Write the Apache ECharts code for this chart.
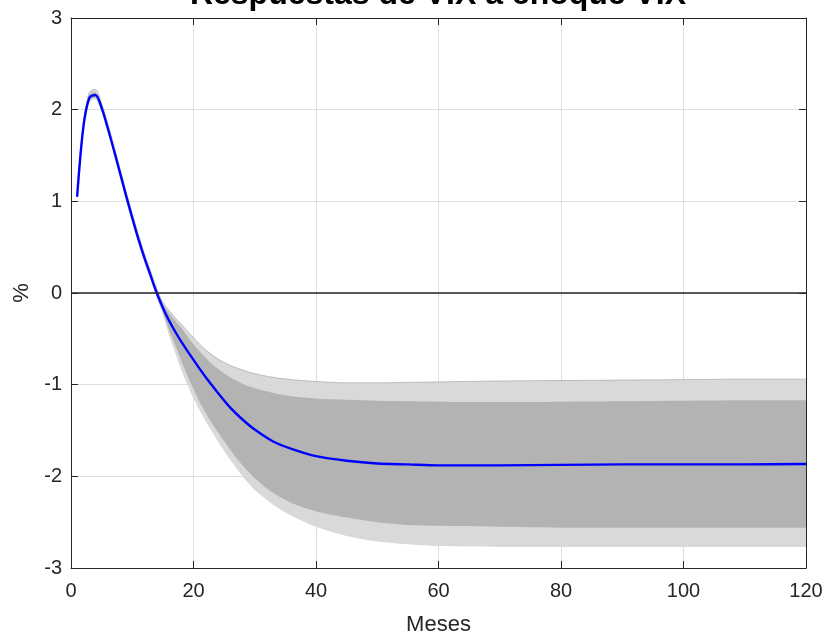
<!DOCTYPE html>
<html>
<head>
<meta charset="utf-8">
<title>Respuestas de VIX a choque VIX</title>
<script src="https://cdn.jsdelivr.net/npm/echarts@6/dist/echarts.min.js"></script>
<style>
	html, body { margin: 0; padding: 0; background: #fff; overflow: hidden; }
	#chart { width: 826px; height: 641px; }
</style>
</head>
<body>
<div id="chart"></div>
<script>
// meses del horizonte
var meses = [1, 2, 3, 4, 5, 6, 7, 8, 9, 10, 11, 12, 13, 14, 15, 16, 17, 18,
	20, 22, 24, 26, 28, 30, 33, 36, 40, 45, 50, 55, 60, 70, 80, 90, 100, 110, 120];

// respuesta media (%)
var respuesta = [1.05, 1.80, 2.13, 2.16, 2.02, 1.80, 1.56, 1.31, 1.06, 0.82, 0.59, 0.38, 0.19, 0.00, -0.16, -0.30, -0.42, -0.53,
	-0.73, -0.92, -1.09, -1.25, -1.38, -1.49, -1.62, -1.70, -1.78, -1.83, -1.86, -1.87, -1.88, -1.88, -1.875, -1.87, -1.87, -1.87, -1.865];

// banda exterior
var bandaExtSup = [1.10, 1.85, 2.19, 2.22, 2.07, 1.85, 1.61, 1.36, 1.11, 0.87, 0.64, 0.43, 0.24, 0.05, -0.10, -0.19, -0.27, -0.34,
	-0.49, -0.62, -0.72, -0.79, -0.84, -0.88, -0.92, -0.945, -0.965, -0.98, -0.98, -0.975, -0.97, -0.96, -0.955, -0.95, -0.945, -0.94, -0.94];
var bandaExtInf = [1.00, 1.75, 2.08, 2.11, 1.97, 1.75, 1.51, 1.26, 1.01, 0.77, 0.54, 0.33, 0.14, -0.05, -0.24, -0.46, -0.65, -0.84,
	-1.15, -1.40, -1.62, -1.82, -2.00, -2.15, -2.31, -2.43, -2.55, -2.65, -2.71, -2.74, -2.76, -2.77, -2.77, -2.77, -2.77, -2.77, -2.77];

// banda interior
var bandaIntSup = [1.08, 1.83, 2.16, 2.19, 2.05, 1.83, 1.59, 1.34, 1.09, 0.85, 0.62, 0.41, 0.22, 0.03, -0.12, -0.22, -0.30, -0.38,
	-0.56, -0.71, -0.83, -0.92, -0.99, -1.04, -1.09, -1.125, -1.15, -1.165, -1.175, -1.18, -1.185, -1.19, -1.185, -1.18, -1.175, -1.17, -1.17];
var bandaIntInf = [1.02, 1.77, 2.10, 2.13, 1.99, 1.77, 1.53, 1.28, 1.03, 0.79, 0.56, 0.35, 0.16, -0.03, -0.21, -0.40, -0.57, -0.74,
	-1.05, -1.31, -1.52, -1.71, -1.88, -2.02, -2.18, -2.29, -2.38, -2.45, -2.50, -2.53, -2.54, -2.55, -2.56, -2.56, -2.56, -2.56, -2.56];

var xTicks = [0, 20, 40, 60, 80, 100, 120];
var yTicks = [-3, -2, -1, 0, 1, 2, 3];

var colorTexto = '#262626';
var colorClaro = '#d9d9d9';
var colorOscuro = '#b3b3b3';
var fuente = 'Liberation Sans, Arial, sans-serif';

function pares(ys) {
	var out = [];
	for (var i = 0; i < meses.length; i++) {
		out.push([meses[i], ys[i]]);
	}
	return out;
}

function filas(sup, inf) {
	var out = [];
	for (var i = 0; i < meses.length; i++) {
		out.push([meses[i], sup[i], inf[i]]);
	}
	return out;
}

// banda como poligono: borde superior de ida, inferior de vuelta
function banda(sup, inf, color) {
	var datos = filas(sup, inf);
	return {
		type: 'custom',
		silent: true,
		clip: true,
		z: 2,
		encode: { x: 0, y: [1, 2] },
		data: datos,
		renderItem: function (params, api) {
			if (params.dataIndex !== 0) {
				return null;
			}
			var pts = [];
			var i;
			for (i = 0; i < datos.length; i++) {
				pts.push(api.coord([datos[i][0], datos[i][1]]));
			}
			// esquinas repetidas para que no se redondeen
			pts.push(pts[pts.length - 1]);
			var ultimo = datos.length - 1;
			pts.push(api.coord([datos[ultimo][0], datos[ultimo][2]]));
			for (i = ultimo; i >= 0; i--) {
				pts.push(api.coord([datos[i][0], datos[i][2]]));
			}
			pts.push(pts[pts.length - 1]);
			pts.push(pts[0]);
			return {
				type: 'polygon',
				shape: { points: pts, smooth: 0.3 },
				style: { fill: color, stroke: null }
			};
		}
	};
}

var chart = echarts.init(document.getElementById('chart'), null, { width: 826, height: 641 });

var ejeX = {
	type: 'value',
	min: xTicks[0],
	max: xTicks[xTicks.length - 1],
	interval: xTicks[1] - xTicks[0]
};
var ejeY = {
	type: 'value',
	min: yTicks[0],
	max: yTicks[yTicks.length - 1],
	interval: yTicks[1] - yTicks[0]
};

var option = {
	animation: false,
	backgroundColor: '#fff',
	//titulo
	title: {
		text: 'Respuestas de VIX a choque VIX',
		left: 438,
		textAlign: 'center',
		top: -21,
		padding: 0,
		textStyle: {
			fontFamily: fuente,
			fontSize: 32,
			fontWeight: 'bold',
			color: '#000'
		}
	},
	//rejilla
	grid: {
		left: 71,
		width: 735,
		top: 18,
		height: 555,
		containLabel: false
	},
	xAxis: [
		Object.assign({}, ejeX, {
			position: 'bottom',
			name: 'Meses',
			nameLocation: 'middle',
			nameGap: 46,
			nameTextStyle: { fontFamily: fuente, fontSize: 22, color: colorTexto },
			axisLine: { onZero: false, lineStyle: { color: colorTexto, width: 1 } },
			axisTick: { inside: true, length: 7, lineStyle: { color: colorTexto } },
			axisLabel: { margin: 13, fontFamily: fuente, fontSize: 20, color: colorTexto },
			splitLine: { show: true, lineStyle: { color: '#dfdfdf', width: 1 } }
		}),
		Object.assign({}, ejeX, {
			position: 'top',
			axisLine: { onZero: false, lineStyle: { color: colorTexto, width: 1 } },
			axisTick: { inside: true, length: 7, lineStyle: { color: colorTexto } },
			axisLabel: { show: false },
			splitLine: { show: false }
		})
	],
	yAxis: [
		Object.assign({}, ejeY, {
			position: 'left',
			name: '%',
			nameLocation: 'middle',
			nameGap: 37,
			nameRotate: 90,
			nameTextStyle: { fontFamily: fuente, fontSize: 22, color: colorTexto },
			axisLine: { onZero: false, lineStyle: { color: colorTexto, width: 1 } },
			axisTick: { inside: true, length: 7, lineStyle: { color: colorTexto } },
			axisLabel: { margin: 9, fontFamily: fuente, fontSize: 20, color: colorTexto },
			splitLine: { show: true, lineStyle: { color: '#dfdfdf', width: 1 } }
		}),
		Object.assign({}, ejeY, {
			position: 'right',
			axisLine: { onZero: false, lineStyle: { color: colorTexto, width: 1 } },
			axisTick: { inside: true, length: 7, lineStyle: { color: colorTexto } },
			axisLabel: { show: false },
			splitLine: { show: false }
		})
	],
	//series
	series: [
		banda(bandaExtSup, bandaExtInf, colorClaro),
		banda(bandaIntSup, bandaIntInf, colorOscuro),
		{
			// borde superior de la banda exterior
			type: 'line',
			data: pares(bandaExtSup),
			symbol: 'none',
			smooth: 0.3,
			silent: true,
			lineStyle: { color: '#a0a0a0', width: 0.8, opacity: 0.8 },
			z: 3
		},
		{
			type: 'line',
			data: pares(respuesta),
			symbol: 'none',
			smooth: 0.3,
			lineStyle: { color: '#0000ff', width: 2.4 },
			z: 4,
			markLine: {
				silent: true,
				symbol: 'none',
				label: { show: false },
				lineStyle: { color: colorTexto, width: 1.5, type: 'solid' },
				data: [{ yAxis: 0 }]
			}
		}
	]
};

chart.setOption(option);
</script>
</body>
</html>
